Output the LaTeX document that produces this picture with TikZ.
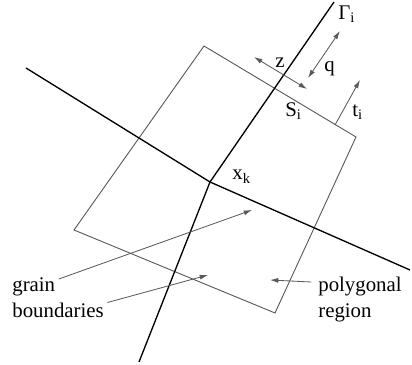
\documentclass[tikz,border=0pt]{standalone}
\usepackage{fontspec}
\setmainfont{Liberation Serif}
\usetikzlibrary{arrows.meta}

\begin{document}
\begin{tikzpicture}
  [x=0.6pt, y=-0.6pt,
   boundary/.style={black, line width=0.8pt},
   region/.style={black!65, line width=0.55pt},
   pointer/.style={black!65, line width=0.5pt, -{Latex[length=5pt, width=3pt]}},
   twoway/.style={black!65, line width=0.5pt, {Latex[length=5pt, width=3pt]}-{Latex[length=5pt, width=3pt]}},
   lbl/.style={inner sep=0pt, anchor=base west, font=\fontsize{12.5}{15}\selectfont}]

  \useasboundingbox (0,0) rectangle (412,365);

  % polygonal region
  \coordinate (p1) at (204,46);
  \coordinate (p2) at (356,137);
  \coordinate (p3) at (275,313);
  \coordinate (p4) at (74,230);
  \draw[region] (p1) -- (p2) -- (p3) -- (p4) -- cycle;

  % grain boundaries
  \coordinate (xk) at (210,182);
  \coordinate (gb1) at (26,68);
  \coordinate (gb2) at (410,270);
  \coordinate (gam1) at (334,2);
  \coordinate (gam2) at (139,362);
  \draw[boundary] (gb1) -- (xk) -- (gb2);
  \draw[boundary] (gam1) -- (xk) -- (gam2);

  % directions
  \coordinate (z1) at (254,57);
  \coordinate (z2) at (307,89);
  \coordinate (q1) at (340,31);
  \coordinate (q2) at (308,78);
  \coordinate (t0) at (335,125);
  \coordinate (t1) at (360,80);
  \draw[twoway] (z1) -- (z2);
  \draw[twoway] (q1) -- (q2);
  \draw[pointer] (t0) -- (t1);

  % labels
  \node[lbl] (gam) at (338,20) {Γ\textsubscript{i}};
  \node[lbl] (q) at (324,72) {q};
  \node[lbl] (z) at (275,68) {z};
  \node[lbl] (si) at (285,117) {S\textsubscript{i}};
  \node[lbl] (ti) at (352,117) {t\textsubscript{i}};
  \node[lbl] (xlab) at (232,180) {x\textsubscript{k}};
  \node[lbl] (grain) at (12,292) {grain};
  \node[lbl] (bound) at (12,318) {boundaries};
  \node[lbl] (poly) at (318,292) {polygonal};
  \node[lbl] (reg) at (318,318) {region};

  \coordinate (a1) at (252,210);
  \coordinate (a2) at (208,275);
  \coordinate (a3) at (270,280);
  \draw[pointer] ([xshift=2pt, yshift=5pt]grain.east) -- (a1);
  \draw[pointer] ([xshift=2pt, yshift=5pt]bound.east) -- (a2);
  \draw[pointer] ([xshift=-4pt, yshift=3pt]poly.west) -- (a3);
\end{tikzpicture}
\end{document}
